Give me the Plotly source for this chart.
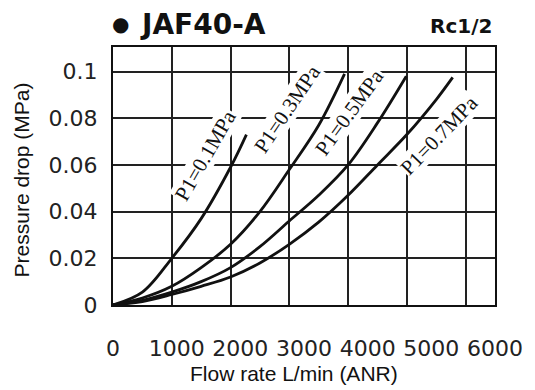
import plotly.graph_objects as go

# ---- data ----
flow_01 = [0, 500, 1000, 1500, 2000, 2270]
dp_01 = [0, 0.0055, 0.02, 0.037, 0.059, 0.073]

flow_03 = [0, 500, 1000, 1500, 2000, 2500, 3000, 3500, 3940]
dp_03 = [0, 0.003, 0.008, 0.016, 0.026, 0.04, 0.058, 0.077, 0.099]

flow_05 = [0, 500, 1000, 1500, 2000, 2500, 3000, 3500, 4000, 4500, 4990]
dp_05 = [0, 0.002, 0.0055, 0.010, 0.016, 0.025, 0.036, 0.047, 0.060, 0.078, 0.098]

flow_07 = [0, 500, 1000, 1500, 2000, 2500, 3000, 3500, 4000, 4500, 5000, 5500, 5780]
dp_07 = [0, 0.0015, 0.0045, 0.008, 0.012, 0.018, 0.026, 0.0355, 0.047, 0.060, 0.073, 0.088, 0.0975]

series_names = ["P1=0.1MPa", "P1=0.3MPa", "P1=0.5MPa", "P1=0.7MPa"]
x_ticks = [0, 1000, 2000, 3000, 4000, 5000, 6000]
x_tick_text = ["0", "1000", "2000", "3000", "4000", "5000", "6000"]
y_ticks = [0, 0.02, 0.04, 0.06, 0.08, 0.1]
y_tick_text = ["0", "0.02", "0.04", "0.06", "0.08", "0.1"]

# label placement (layout only)
label_x = [1577, 2963, 4026, 5556]
label_y = [0.0642, 0.0840, 0.0827, 0.0727]
label_angle = [-60, -56, -54, -46]

fig = go.Figure()
for fx, fy, name in zip([flow_01, flow_03, flow_05, flow_07],
                        [dp_01, dp_03, dp_05, dp_07], series_names):
    fig.add_trace(go.Scatter(x=fx, y=fy, mode="lines", name=name,
                             line=dict(color="#111111", width=2.8, shape="spline", smoothing=1.0),
                             showlegend=False, hoverinfo="skip"))

grid_col = "#222222"
# the page body has an 8px margin, so the figure is drawn 8px in from the top-left
fig.update_layout(
    width=527, height=382,
    margin=dict(l=105, r=40, t=39, b=85),
    paper_bgcolor="white", plot_bgcolor="white",
    xaxis=dict(range=[0, 6500], tickvals=x_ticks, showticklabels=False, ticks="",
               showgrid=True, gridcolor=grid_col, gridwidth=1.5, zeroline=False,
               showline=True, linecolor="#111111", linewidth=2, mirror=True),
    xaxis2=dict(overlaying="x", anchor="y", side="bottom", range=[-1, 6001],
                tickvals=x_ticks, ticktext=x_tick_text, showgrid=False, zeroline=False,
                showline=False, ticks="", ticklabelstandoff=28,
                tickfont=dict(family="DejaVu Sans", size=22, color="#222222")),
    yaxis=dict(range=[0, 0.1105], tickvals=y_ticks, ticktext=y_tick_text, ticks="",
               showgrid=True, gridcolor=grid_col, gridwidth=1.5, zeroline=False,
               showline=True, linecolor="#111111", linewidth=2, mirror=True,
               ticklabelstandoff=9,
               tickfont=dict(family="DejaVu Sans", size=22, color="#222222")),
)
# empty trace to bind the tick-label axis
fig.add_trace(go.Scatter(x=[], y=[], xaxis="x2", yaxis="y", showlegend=False))

for t, x, y, a in zip(series_names, label_x, label_y, label_angle):
    fig.add_annotation(x=x, y=y, xref="x", yref="y", text=t, textangle=a, showarrow=False,
                       font=dict(family="Liberation Serif", size=21, color="#111111"),
                       bgcolor="white", borderpad=0)

fig.add_annotation(xref="paper", yref="paper", x=0.0204, y=1.09, xanchor="center", yanchor="middle",
                   text="●", showarrow=False,
                   font=dict(family="DejaVu Sans", size=20, color="#111111"))
fig.add_annotation(xref="paper", yref="paper", x=0.065, y=1.088, xanchor="left", yanchor="middle",
                   text="<b>JAF40-A</b>", showarrow=False,
                   font=dict(family="DejaVu Sans", size=28, color="#111111"))
fig.add_annotation(xref="paper", yref="paper", x=0.912, y=1.083, xanchor="center", yanchor="middle",
                   text="<b>Rc1/2</b>", showarrow=False,
                   font=dict(family="DejaVu Sans", size=20, color="#111111"))
fig.add_annotation(xref="paper", yref="paper", x=0.474, y=-0.2636, xanchor="center", yanchor="middle",
                   text="Flow rate L/min (ANR)", showarrow=False,
                   font=dict(family="Liberation Sans", size=21, color="#111111"))
fig.add_annotation(xref="paper", yref="paper", x=-0.237, y=0.4845, xanchor="center", yanchor="middle",
                   text="Pressure drop (MPa)", textangle=-90, showarrow=False,
                   font=dict(family="Liberation Sans", size=21, color="#111111"))

fig.write_html("out.html")
